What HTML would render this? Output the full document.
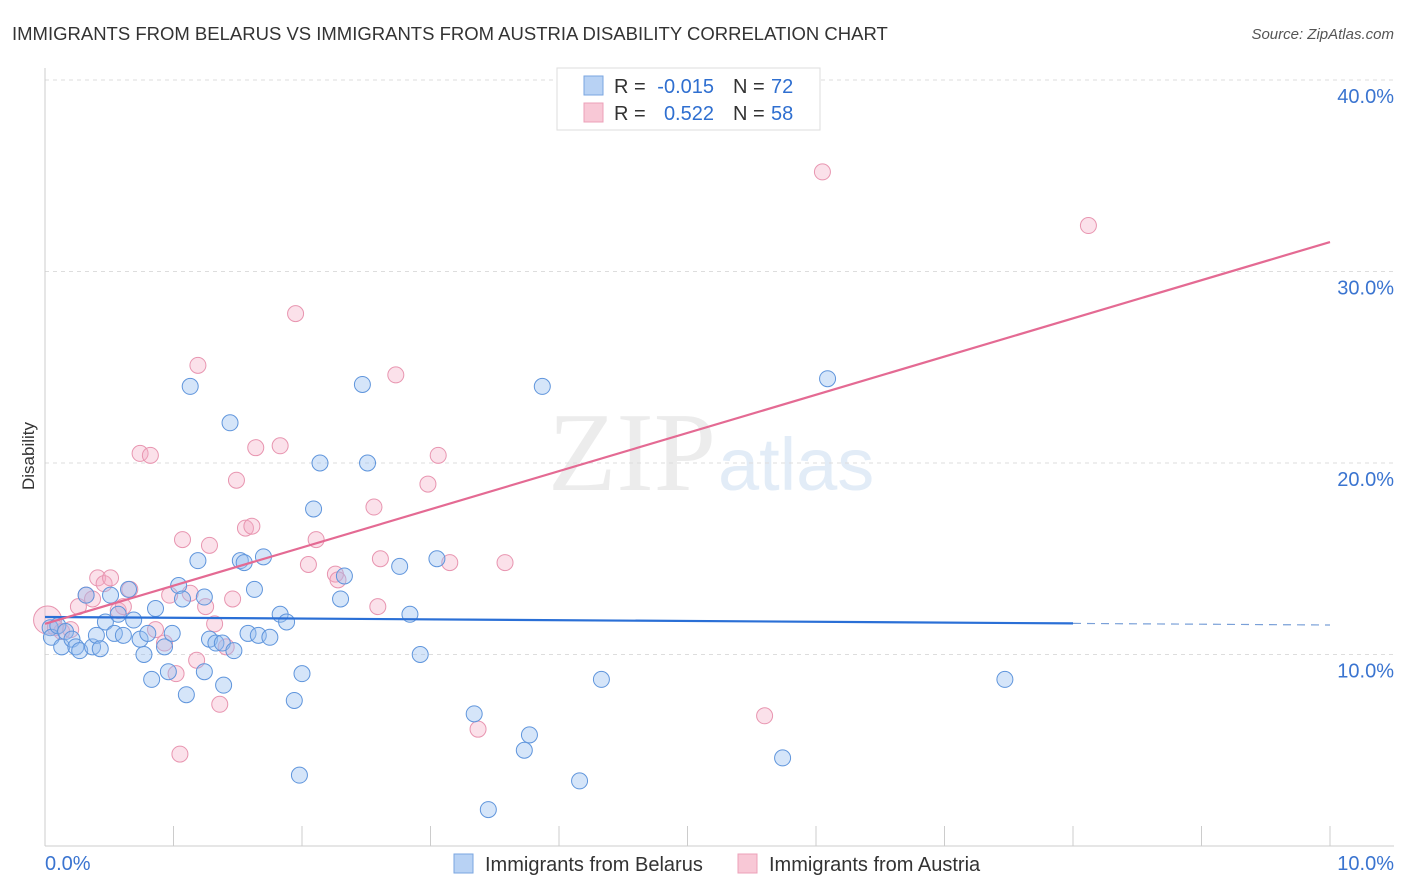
<!DOCTYPE html>
<html><head><meta charset="utf-8">
<style>
body{margin:0;background:#fff;font-family:"Liberation Sans",sans-serif;}
#wrap{position:relative;width:1406px;height:892px;overflow:hidden;}
</style></head>
<body><div id="wrap">
<svg id="svg" width="1406" height="892" xmlns="http://www.w3.org/2000/svg">
<text x="12" y="40" font-size="18.5" fill="#333">IMMIGRANTS FROM BELARUS VS IMMIGRANTS FROM AUSTRIA DISABILITY CORRELATION CHART</text>
<text x="1394" y="39" font-size="15" fill="#555" font-style="italic" text-anchor="end">Source: ZipAtlas.com</text>
<text x="34" y="456" font-size="17" fill="#333" transform="rotate(-90 34 456)" text-anchor="middle">Disability</text>
<text x="716" y="490" font-size="112" fill="#ececec" text-anchor="end" font-family="Liberation Serif,serif">ZIP</text>
<text x="718" y="490" font-size="74" fill="#e2ecf7">atlas</text>
<g id="grid"></g><g id="marks"></g><g id="lines"></g>
<g>
<rect x="557" y="68" width="263" height="62" fill="#fff" stroke="#ddd"/>
<rect x="584" y="76" width="19" height="19" fill="#b8d2f4" stroke="#7aa6e0"/>
<rect x="584" y="103" width="19" height="19" fill="#f8c8d6" stroke="#eca0b8"/>
<text x="614" y="93" font-size="20" fill="#333">R =</text>
<text x="714" y="93" font-size="20" fill="#2f6fd0" text-anchor="end">-0.015</text>
<text x="733" y="93" font-size="20" fill="#333">N =</text>
<text x="771" y="93" font-size="20" fill="#2f6fd0">72</text>
<text x="614" y="120" font-size="20" fill="#333">R =</text>
<text x="714" y="120" font-size="20" fill="#2f6fd0" text-anchor="end">0.522</text>
<text x="733" y="120" font-size="20" fill="#333">N =</text>
<text x="771" y="120" font-size="20" fill="#2f6fd0">58</text>
</g>
<g>
<rect x="454" y="854" width="19" height="19" fill="#b8d2f4" stroke="#7aa6e0"/>
<text x="485" y="871" font-size="20" fill="#333">Immigrants from Belarus</text>
<rect x="738" y="854" width="19" height="19" fill="#f8c8d6" stroke="#eca0b8"/>
<text x="769" y="871" font-size="20" fill="#333">Immigrants from Austria</text>
</g>
</svg>
<script>
const yTicks=[10,20,30,40];
const xTickLabels=["0.0%","10.0%"];
const blueX=[0.04,0.05,0.1,0.13,0.16,0.21,0.24,0.27,0.32,0.37,0.4,0.43,0.47,0.51,0.54,0.57,0.61,0.65,0.69,0.74,0.77,0.8,0.83,0.86,0.93,0.96,0.99,1.04,1.07,1.1,1.13,1.19,1.24,1.24,1.28,1.33,1.38,1.39,1.44,1.47,1.52,1.55,1.58,1.63,1.66,1.7,1.75,1.83,1.88,1.94,1.98,2.0,2.09,2.14,2.3,2.33,2.47,2.51,2.76,2.84,2.92,3.05,3.34,3.45,3.73,3.77,3.87,4.16,4.33,5.74,6.09,7.47];
const blueY=[11.4,10.9,11.5,10.4,11.2,10.8,10.4,10.2,13.1,10.4,11.0,10.3,11.7,13.1,11.1,12.1,11.0,13.4,11.8,10.8,10.0,11.1,8.7,12.4,10.4,9.1,11.1,13.6,12.9,7.9,24.0,14.9,13.0,9.1,10.8,10.6,10.6,8.4,22.1,10.2,14.9,14.8,11.1,13.4,11.0,15.1,10.9,12.1,11.7,7.6,3.7,9.0,17.6,20.0,12.9,14.1,24.1,20.0,14.6,12.1,10.0,15.0,6.9,1.9,5.0,5.8,24.0,3.4,8.7,4.6,24.4,8.7];
const pinkX=[0.02,0.08,0.13,0.2,0.26,0.32,0.37,0.41,0.46,0.51,0.57,0.61,0.66,0.74,0.82,0.86,0.93,0.97,1.02,1.05,1.07,1.13,1.18,1.19,1.25,1.28,1.32,1.36,1.41,1.46,1.49,1.56,1.61,1.64,1.83,1.95,2.05,2.11,2.26,2.28,2.56,2.59,2.61,2.73,2.98,3.06,3.15,3.37,3.58,5.6,6.05,8.12];
const pinkY=[11.8,11.4,11.2,11.3,12.5,13.1,12.9,14.0,13.7,14.0,12.3,12.5,13.4,20.5,20.4,11.3,10.6,13.1,9.0,4.8,16.0,13.2,9.7,25.1,12.5,15.7,11.6,7.4,10.4,12.9,19.1,16.6,16.7,20.8,20.9,27.8,14.7,16.0,14.2,13.9,17.7,12.5,15.0,24.6,18.9,20.4,14.8,6.1,14.8,6.8,35.2,32.4];
const blueTrend=[11.96,11.54];
const pinkTrend=[11.6,31.54];
const NS="http://www.w3.org/2000/svg";
const X=v=>45+v*128.5, Y=v=>846-v*19.15;
function mk(tag,at,parent){const e=document.createElementNS(NS,tag);for(const k in at)e.setAttribute(k,at[k]);document.getElementById(parent).appendChild(e);return e;}
yTicks.forEach(t=>{
 const g=mk('line',{x1:45,x2:1394,y1:Y(t),y2:Y(t),stroke:'#ddd','stroke-dasharray':'4,4'},'grid');
 
 
 const l=mk('text',{x:1394,y:Y(t)+23,'font-size':20,fill:'#3a74d0','text-anchor':'end'},'grid');
 l.textContent=t.toFixed(1)+'%';
 
 
});
const ax=mk('line',{x1:45,x2:1394,y1:846,y2:846,stroke:'#ccc'},'grid');


const ay=mk('line',{x1:45,x2:45,y1:68,y2:846,stroke:'#ccc'},'grid');


for(let i=0;i<=10;i++){const t=mk('line',{x1:X(i),x2:X(i),y1:826,y2:846,stroke:'#ccc'},'grid');
 
 }
[[0,'start',45],[10,'end',1394]].forEach(([v,a,x],i)=>{const t=mk('text',{x:x,y:870,'font-size':20,fill:'#3a74d0','text-anchor':a},'grid');t.textContent=xTickLabels[i];
 
 });
pinkX.forEach((x,i)=>{const c=mk('circle',{cx:X(x),cy:Y(pinkY[i]),r:i==0?14:8,fill:'rgba(244,170,195,0.35)',stroke:'#e895b0','stroke-width':1},'marks');
 
 });
blueX.forEach((x,i)=>{const c=mk('circle',{cx:X(x),cy:Y(blueY[i]),r:8,fill:'rgba(150,190,240,0.4)',stroke:'#5f95dc','stroke-width':1},'marks');
 
 });
const bAt=v=>blueTrend[0]+(blueTrend[1]-blueTrend[0])*v/10;
const b1=mk('line',{x1:X(0),y1:Y(bAt(0)),x2:X(8),y2:Y(bAt(8)),stroke:'#2a6fd6','stroke-width':2.2},'lines');


const b2=mk('line',{x1:X(8),y1:Y(bAt(8)),x2:X(10),y2:Y(bAt(10)),stroke:'#7aa0d8','stroke-width':1.2,'stroke-dasharray':'8,6'},'lines');


const p1=mk('line',{x1:X(0),y1:Y(pinkTrend[0]),x2:X(10),y2:Y(pinkTrend[1]),stroke:'#e46a93','stroke-width':2.2},'lines');


</script>
</div></body></html>
